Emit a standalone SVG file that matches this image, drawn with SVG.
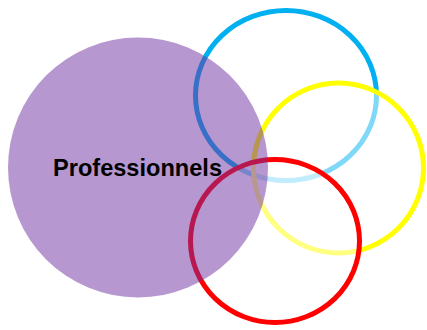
<svg xmlns="http://www.w3.org/2000/svg" width="427" height="330" viewBox="0 0 427 330">
  <style>
    .ring { stroke-width: 5; }
    .veil { fill: #FFFFFF; fill-opacity: 0.5; }
    .label { font-family: "Liberation Sans", Arial, sans-serif; font-weight: bold; font-size: 24px; fill: #000000; }
  </style>
  <rect width="427" height="330" fill="#FFFFFF"/>
  <g id="blue">
    <ellipse class="ring" cx="286" cy="95.5" rx="90.5" ry="85" fill="none" stroke="#00B0F0"/>
  </g>
  <g id="yellow">
    <circle class="ring veil" cx="338.5" cy="168" r="85" stroke="#FFFF00"/>
  </g>
  <g id="red">
    <ellipse class="ring veil" cx="275" cy="241" rx="84.5" ry="81.5" stroke="#FF0000"/>
  </g>
  <g id="professionnels">
    <circle cx="138" cy="167.5" r="130" fill="#7030A0" fill-opacity="0.5"/>
    <text class="label" x="137.5" y="176" text-anchor="middle" textLength="169" lengthAdjust="spacingAndGlyphs">Professionnels</text>
  </g>
  <g id="connectors"></g>
</svg>
